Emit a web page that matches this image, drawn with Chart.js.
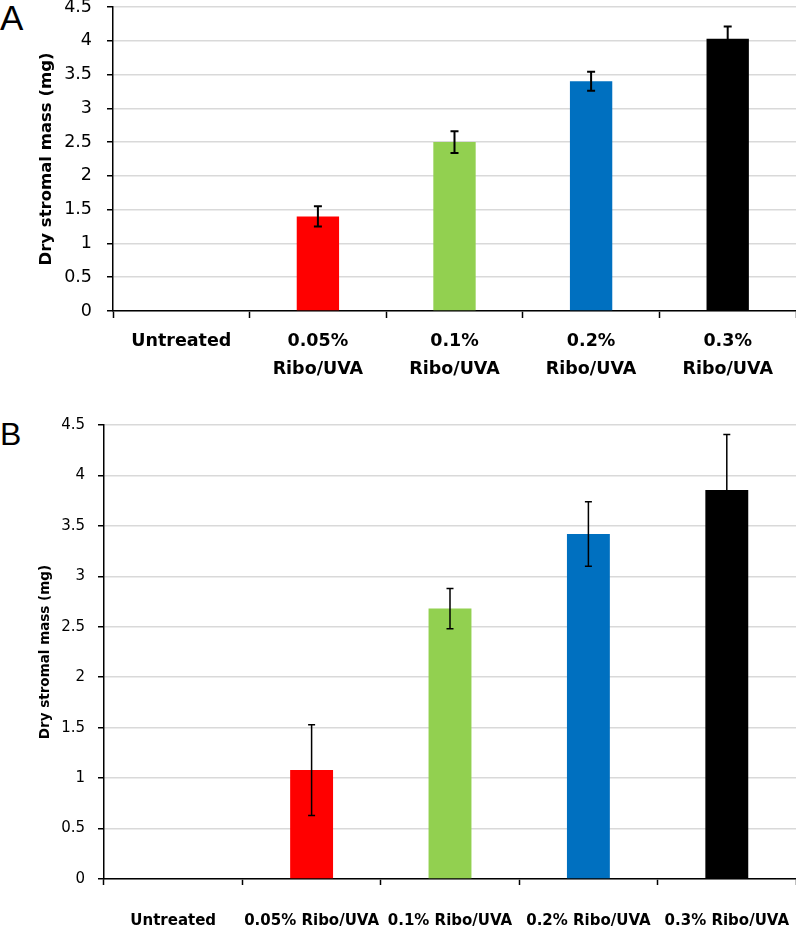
<!DOCTYPE html>
<html>
<head>
<meta charset="utf-8">
<script src="https://cdn.jsdelivr.net/npm/chart.js@4"></script>
<style>
    body { margin: 0; background: #fff; }
    #wrap { position: relative; width: 796px; height: 933px; }
    canvas { position: absolute; left: 0; }
    .panel { position: absolute; left: 0; font-family: "Liberation Sans", Arial, sans-serif; line-height: 1; color: #000; }
</style>
</head>
<body>
<div id="wrap">
    <div class="panel" style="top:0px; font-size:35px;">A</div>
    <canvas id="chartA" width="796" height="390" style="top:0px"></canvas>
    <div class="panel" style="top:418px; font-size:32px;">B</div>
    <canvas id="chartB" width="796" height="543" style="top:390px"></canvas>
</div>
<script>
// categories
const labelsA = [['Untreated'], ['0.05%', 'Ribo/UVA'], ['0.1%', 'Ribo/UVA'], ['0.2%', 'Ribo/UVA'], ['0.3%', 'Ribo/UVA']];
const labelsB = ['Untreated', '0.05% Ribo/UVA', '0.1% Ribo/UVA', '0.2% Ribo/UVA', '0.3% Ribo/UVA'];

// dry stromal mass (mg) and error bars
const massA = [0, 1.4, 2.5, 3.4, 4.03];
const errA = [0, 0.15, 0.16, 0.14, 0.18];
const massB = [0, 1.08, 2.68, 3.42, 3.855];
const errB = [0, 0.45, 0.2, 0.32, 0.55];

const barColors = ['#ffffff', '#ff0000', '#92d050', '#0070c0', '#000000'];
const yMin = 0, yMax = 4.5, yStep = 0.5;
const yTitle = 'Dry stromal mass (mg)';

const errorBars = {
    id: 'errorBars',
    afterDatasetsDraw(chart, args, opts) {
        const ctx = chart.ctx;
        const y = chart.scales.y;
        const meta = chart.getDatasetMeta(0);
        const vals = chart.data.datasets[0].data;
        ctx.save();
        ctx.strokeStyle = '#000';
        ctx.lineWidth = opts.lineWidth;
        opts.errors.forEach((e, i) => {
            if (!e) return;
            const x = meta.data[i].x;
            const top = y.getPixelForValue(vals[i] + e);
            const bot = y.getPixelForValue(vals[i] - e);
            const w = opts.capWidth / 2;
            ctx.beginPath();
            ctx.moveTo(x, top); ctx.lineTo(x, bot);
            ctx.moveTo(x - w, top); ctx.lineTo(x + w, top);
            ctx.moveTo(x - w, bot); ctx.lineTo(x + w, bot);
            ctx.stroke();
        });
        ctx.restore();
    }
};

function makeChart(id, labels, data, errors, s) {
    return new Chart(document.getElementById(id), {
        type: 'bar',
        data: {
            labels: labels,
            datasets: [{
                data: data,
                backgroundColor: barColors,
                borderWidth: 0,
                barPercentage: 0.31,
                categoryPercentage: 1
            }]
        },
        plugins: [errorBars],
        options: {
            responsive: false,
            devicePixelRatio: 1,
            animation: false,
            layout: { padding: 0 },
            plugins: {
                legend: { display: false },
                tooltip: { enabled: false },
                errorBars: { errors: errors, capWidth: s.cap, lineWidth: s.errWidth }
            },
            scales: {
                x: {
                    grid: { display: true, drawOnChartArea: false, drawTicks: true, tickLength: s.xTick, tickColor: '#000', tickWidth: 1.5, offset: true },
                    border: { color: '#000', width: 1.5 },
                    ticks: {
                        color: '#000',
                        padding: s.xPad,
                        maxRotation: 0,
                        autoSkip: false,
                        font: { family: 'DejaVu Sans', size: s.xFont, weight: 'bold', lineHeight: s.xLine }
                    },
                    afterFit(scale) {
                        scale.height = s.xHeight;
                        scale.paddingLeft = 0;
                        scale.paddingRight = 0;
                    }
                },
                y: {
                    min: yMin,
                    max: yMax,
                    grid: { color: '#d9d9d9', lineWidth: 1.5, tickLength: 6, tickColor: '#000', tickWidth: 1.5 },
                    border: { color: '#000', width: 1.5 },
                    ticks: {
                        stepSize: yStep,
                        color: '#000',
                        padding: s.yPad,
                        font: { family: 'DejaVu Sans', size: s.yFont },
                        callback: v => String(+v)
                    },
                    title: {
                        display: true,
                        text: yTitle,
                        color: '#000',
                        font: { family: 'DejaVu Sans', size: s.titleFont, weight: 'bold' },
                        padding: { top: s.titlePad, bottom: 0 }
                    },
                    afterFit(scale) {
                        scale.width = s.yWidth;
                        scale.paddingTop = s.top;
                        scale.paddingBottom = 0;
                    }
                }
            }
        }
    });
}

makeChart('chartA', labelsA, massA, errA, {
    top: 7, yWidth: 113, xHeight: 79, xTick: 7, xPad: 9, xFont: 17.5, xLine: 1.6,
    yFont: 17.5, yPad: 15, titleFont: 16.5, titlePad: 37, cap: 8, errWidth: 2
});
makeChart('chartB', labelsB, massB, errB, {
    top: 35, yWidth: 104, xHeight: 54, xTick: 6, xPad: 27, xFont: 15, xLine: 1.2,
    yFont: 15, yPad: 13, titleFont: 13.5, titlePad: 37, cap: 7, errWidth: 1.5
});
</script>
</body>
</html>
